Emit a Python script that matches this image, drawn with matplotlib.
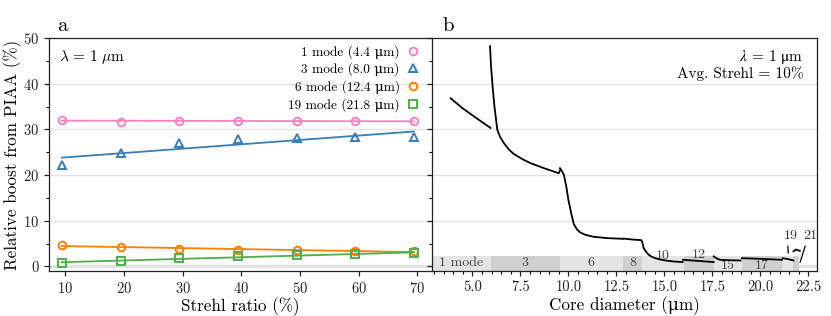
import numpy as np
import matplotlib.pyplot as plt

plt.rcParams['font.family'] = ['cmr10', 'DejaVu Serif']
plt.rcParams['mathtext.fontset'] = 'cm'
plt.rcParams['axes.formatter.use_mathtext'] = True

# panel a data
strehl = [9.4, 19.4, 29.4, 39.4, 49.4, 59.4, 69.4]
boost_1 = [32.1, 31.7, 31.8, 31.9, 31.8, 31.8, 31.8]
boost_3 = [22.2, 24.8, 27.0, 27.85, 28.2, 28.35, 28.35]
boost_6 = [4.7, 4.25, 3.9, 3.55, 3.5, 3.4, 3.35]
boost_19 = [0.8, 1.15, 1.75, 2.2, 2.55, 2.7, 2.85]
labels_a = ['1 mode (4.4 \u03bcm)', '3 mode (8.0 \u03bcm)',
            '6 mode (12.4 \u03bcm)', '19 mode (21.8 \u03bcm)']
colors = ['#f781bf', '#377eb8', '#ff7f00', '#4daf4a']
markers = ['o', '^', 'o', 's']

# panel b data (curve pieces)
seg_x = [
    [3.87, 4.5, 5.2, 5.95],
    [5.92, 5.97, 6.04, 6.15, 6.3, 6.45, 6.64, 6.9, 7.16, 7.6, 8.03, 8.8, 9.5, 9.56],
    [9.56, 9.65, 9.77, 9.9, 10.0, 10.15, 10.28, 10.45, 10.63, 10.9, 11.3, 12.0, 12.85],
    [12.88, 13.3, 13.8, 13.85, 13.92, 14.05, 14.18, 14.35, 14.53, 14.8, 15.14, 15.5, 15.95],
    [15.97, 16.8, 17.57],
    [17.57, 17.7, 17.9, 18.4, 18.96],
    [19.04, 20.1, 21.12],
    [21.17, 21.45, 21.72],
    [21.72, 21.85, 22.05],
]
seg_y = [
    [36.8, 34.6, 32.5, 30.3],
    [48.2, 44.0, 40.1, 35.0, 29.9, 28.3, 27.0, 25.6, 24.6, 23.5, 22.6, 21.4, 20.4, 21.0],
    [21.5, 21.0, 20.0, 17.3, 14.6, 11.6, 9.3, 8.1, 7.4, 6.9, 6.5, 6.2, 6.05],
    [6.1, 5.9, 5.75, 5.3, 4.0, 3.2, 2.55, 2.1, 1.8, 1.5, 1.25, 1.08, 0.95],
    [1.45, 1.2, 0.95],
    [2.2, 1.8, 1.45, 1.35, 1.3],
    [1.8, 1.65, 1.45],
    [1.8, 1.6, 1.3],
    [3.3, 3.7, 3.4],
]

# mode bands along the bottom
band_edges = [2.9, 5.95, 9.54, 12.85, 13.84, 16.0, 17.6, 19.04, 21.12, 21.72, 22.0]
band_names = ['1 mode', '3', '6', '8', '10', '12', '15', '17', '', '']
band_label_y = [0.75, 0.75, 0.75, 0.75, 2.3, 2.5, 0.0, 0.0, 0, 0]

fig = plt.figure(figsize=(8.31, 3.16), dpi=100)
ax1 = fig.add_axes([0.059, 0.1424, 0.4609, 0.7373])
ax2 = fig.add_axes([0.5199, 0.1424, 0.4633, 0.7373])

grid_col = '#e2e2e2'
for ax in (ax1, ax2):
    ax.set_ylim(-1, 50)
    ax.set_yticks([0, 10, 20, 30, 40, 50])
    ax.set_yticks(np.arange(0, 51, 5), minor=True)
    for g in [10, 20, 30, 40]:
        ax.axhline(g, color=grid_col, lw=1.0, zorder=0)
    ax.axhline(0, color=grid_col, lw=2.5, zorder=0)
    for s in ax.spines.values():
        s.set_color('#222222')
        s.set_linewidth(0.9)
    ax.tick_params(direction='out', length=3.5, width=0.9, labelsize=10.5, colors='#222222')
    ax.tick_params(which='minor', direction='out', length=2, width=0.8)

# panel a
for xs, ys, c, m, lab in zip([strehl] * 4, [boost_1, boost_3, boost_6, boost_19],
                             colors, markers, labels_a):
    xs = np.array(xs)
    ys = np.array(ys)
    p = np.polyfit(xs, ys, 1)
    ax1.plot(xs, np.polyval(p, xs), color=c, lw=1.3, zorder=2)
    ax1.plot(xs, ys, ls='none', marker=m, ms=5.5, mfc='none', mec=c, mew=1.4,
             label=lab, zorder=3)

ax1.set_xlim(7.2, 72.5)
ax1.set_xticks([10, 20, 30, 40, 50, 60, 70])
ax1.spines['right'].set_visible(False)
ax1.set_xlabel('Strehl ratio (%)', fontsize=12.3, labelpad=1)
ax1.set_ylabel('Relative boost from PIAA (%)', fontsize=12.3, labelpad=1)
ax1.text(0.02, 1.03, 'a', transform=ax1.transAxes, fontsize=15)
ax1.text(0.025, 0.92, r'$\lambda\,=\,1\ \mu\mathrm{m}$', transform=ax1.transAxes,
         fontsize=11, va='center')
ax1.legend(loc='upper right', frameon=False, markerfirst=False, fontsize=9.6,
           handlelength=0.8, handletextpad=0.6, labelspacing=0.3,
           borderaxespad=0.2, bbox_to_anchor=(0.985, 1.005))

# panel b
for i in range(len(band_edges) - 1):
    col = '#e4e4e4' if i % 2 == 0 else '#d0d0d0'
    ax2.fill_between([band_edges[i], band_edges[i + 1]], -1, 2.2, color=col,
                     lw=0, zorder=0.5)
    if band_names[i]:
        ax2.text((band_edges[i] + band_edges[i + 1]) / 2, band_label_y[i],
                 band_names[i], ha='center', va='center', fontsize=10,
                 color='#444444', zorder=1)

for xs, ys in zip(seg_x, seg_y):
    ax2.plot(xs, ys, color='black', lw=1.3, zorder=3)

ax2.annotate('19', xy=(21.45, 2.9), xytext=(21.6, 6.7), fontsize=10,
             color='#333333', ha='center', va='center',
             arrowprops=dict(arrowstyle='-', color='black', lw=0.9,
                             shrinkA=1, shrinkB=0, relpos=(0.25, 0)))
ax2.annotate('21', xy=(22.07, 0.9), xytext=(22.62, 6.7), fontsize=10,
             color='#333333', ha='center', va='center',
             arrowprops=dict(arrowstyle='-', color='black', lw=0.9,
                             shrinkA=1, shrinkB=0, relpos=(0.2, 0)))

ax2.set_xlim(2.9, 22.95)
ax2.set_xticks([5.0, 7.5, 10.0, 12.5, 15.0, 17.5, 20.0, 22.5])
ax2.set_xticklabels(['5.0', '7.5', '10.0', '12.5', '15.0', '17.5', '20.0', '22.5'])
ax2.set_xticks(np.arange(3.0, 23.0, 0.5), minor=True)
ax2.tick_params(labelleft=False)
ax2.set_xlabel('Core diameter (\u03bcm)', fontsize=12.3, labelpad=1)
ax2.text(0.028, 1.03, 'b', transform=ax2.transAxes, fontsize=15)
ax2.text(0.965, 0.92, r'$\lambda$ = 1 $\mathrm{\mu}$m', transform=ax2.transAxes,
         fontsize=11, ha='right', va='center', math_fontfamily='stix')
ax2.text(0.965, 0.845, 'Avg. Strehl = 10%', transform=ax2.transAxes, fontsize=11,
         ha='right', va='center')

fig.savefig('out.png', dpi=100)
